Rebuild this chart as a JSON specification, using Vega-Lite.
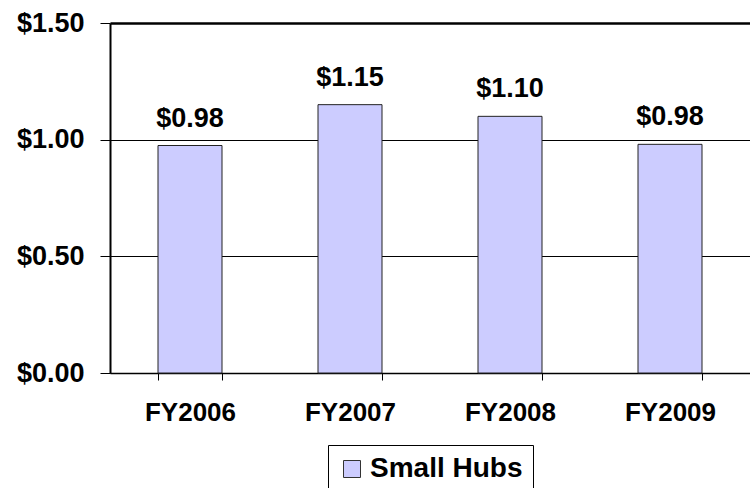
{
  "$schema": "https://vega.github.io/schema/vega-lite/v6.json",
  "width": 640,
  "height": 350,
  "autosize": {"type": "none"},
  "padding": {"left": 110, "top": 23, "right": 0, "bottom": 115},
  "background": "white",
  "config": {"view": {"stroke": null}, "font": "Liberation Sans"},
  "data": {"values": [
    {"year": "FY2006", "value": 0.975, "label": "$0.98", "series": "Small Hubs"},
    {"year": "FY2007", "value": 1.15, "label": "$1.15", "series": "Small Hubs"},
    {"year": "FY2008", "value": 1.10, "label": "$1.10", "series": "Small Hubs"},
    {"year": "FY2009", "value": 0.98, "label": "$0.98", "series": "Small Hubs"}
  ]},
  "layer": [
    {
      "mark": {"type": "bar", "stroke": "#222222", "strokeWidth": 1},
      "encoding": {
        "x": {"field": "year", "type": "nominal", "scale": {"paddingInner": 0.6, "paddingOuter": 0.3},
          "axis": {"title": null, "labelAngle": 0, "tickBand": "extent", "tickSize": 7, "tickColor": "black", "domainColor": "black", "domainWidth": 1.5, "labelFontSize": 26, "labelFontWeight": "bold", "labelColor": "black", "labelPadding": 19, "grid": false}},
        "y": {"field": "value", "type": "quantitative", "scale": {"domain": [0, 1.5], "nice": false},
          "axis": {"title": null, "format": "$.2f", "values": [0, 0.5, 1, 1.5], "grid": true, "gridColor": "black", "gridOpacity": 1, "gridWidth": {"condition": {"test": "datum.value == 1.5", "value": 2.5}, "value": 1}, "domainColor": "black", "domainWidth": 2, "tickColor": "black", "tickSize": 10, "labelFontSize": 27, "labelFontWeight": "bold", "labelColor": "black", "labelPadding": 16}},
        "color": {"field": "series", "type": "nominal", "scale": {"range": ["#CCCCFF"]},
          "legend": {"orient": "none", "legendX": 218, "legendY": 422, "title": null, "strokeColor": "black", "fillColor": "white", "padding": 10, "symbolType": "square", "symbolSize": 289, "symbolStrokeColor": "#333333", "symbolStrokeWidth": 1, "symbolOpacity": 1, "labelFontSize": 28, "labelFontWeight": "bold", "labelColor": "black", "labelOffset": 4}}
      }
    },
    {
      "mark": {"type": "text", "fontSize": 27, "fontWeight": "bold", "baseline": "alphabetic", "dy": -19, "color": "black"},
      "encoding": {
        "x": {"field": "year", "type": "nominal"},
        "y": {"field": "value", "type": "quantitative"},
        "text": {"field": "label"}
      }
    }
  ]
}
